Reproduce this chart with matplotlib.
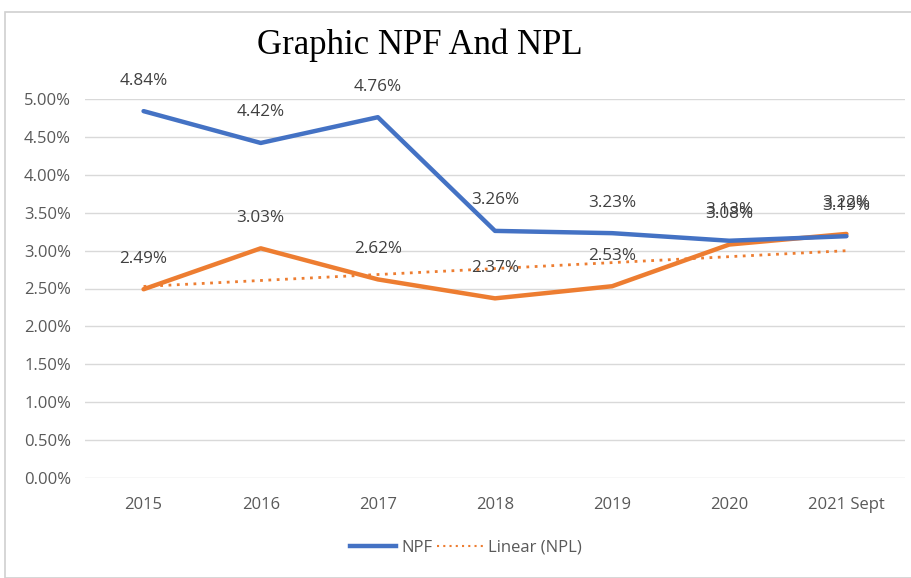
import numpy as np
import matplotlib.pyplot as plt
from matplotlib.patches import Rectangle
from matplotlib.lines import Line2D

years = ["2015", "2016", "2017", "2018", "2019", "2020", "2021 Sept"]
npf = [4.84, 4.42, 4.76, 3.26, 3.23, 3.13, 3.19]
npl = [2.49, 3.03, 2.62, 2.37, 2.53, 3.08, 3.22]

BLUE = "#4472C4"
ORANGE = "#ED7D31"
GRID = "#D9D9D9"
TXT = "#595959"

plt.rcParams["font.family"] = ["Open Sans", "DejaVu Sans"]

fig = plt.figure(figsize=(9.12, 5.78), dpi=100)
fig.patches.append(Rectangle((5 / 912, 0), 907 / 912, 1 - 12 / 578,
                             transform=fig.transFigure, fill=False,
                             edgecolor="#D0D0D0", linewidth=1.2))

ax = fig.add_axes([85 / 912, 1 - 478 / 578, 820 / 912, 379 / 578])
x = np.arange(len(years))

# NPL linear trend
coef = np.polyfit(x, npl, 1)
trend = np.polyval(coef, x)

ax.plot(x, trend, color=ORANGE, linestyle=(0, (1, 2)), linewidth=2, zorder=2)
ax.plot(x, npl, color=ORANGE, linewidth=3.2, solid_capstyle="round", zorder=3)
ax.plot(x, npf, color=BLUE, linewidth=3.2, solid_capstyle="round", zorder=4)

for series in (npf, npl):
    for xi, v in zip(x, series):
        ax.annotate(f"{v:.2f}%", (xi, v), xytext=(0, 22), textcoords="offset points",
                    ha="center", va="center", fontsize=12.3, color="#404040")

ax.set_xlim(-0.5, len(years) - 0.5)
ax.set_ylim(0, 5.0)
ax.set_yticks(np.arange(0, 5.01, 0.5))
ax.set_yticklabels([f"{t:.2f}%" for t in np.arange(0, 5.01, 0.5)])
ax.set_xticks(x)
ax.set_xticklabels(years)
ax.tick_params(axis="both", length=0, labelsize=12, labelcolor=TXT)
ax.tick_params(axis="x", pad=14)
ax.tick_params(axis="y", pad=10)
ax.grid(axis="y", color=GRID, linewidth=1)
ax.set_axisbelow(True)
for s in ax.spines.values():
    s.set_visible(False)

fig.text(420 / 912, 1 - 45 / 578, "Graphic NPF And NPL", ha="center", va="center",
         fontsize=25, family="Liberation Serif", color="black")

handles = [Line2D([], [], color=BLUE, linewidth=3.2),
           Line2D([], [], color=ORANGE, linewidth=1.5, linestyle=(0, (1, 2)))]
fig.legend(handles, ["NPF", "Linear (NPL)"], loc="center",
           bbox_to_anchor=(466 / 912, 1 - 548 / 578), ncol=2, frameon=False,
           fontsize=12, labelcolor=TXT, handlelength=2.8, handletextpad=0.3,
           columnspacing=0.25)

fig.savefig("out.png", dpi=100)
